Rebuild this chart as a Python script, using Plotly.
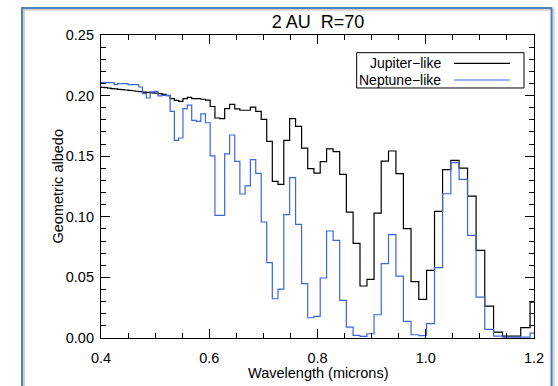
import plotly.graph_objects as go

# Bin edges (microns) read from the step positions
edges = [0.3970, 0.4062, 0.4122, 0.4182, 0.4243, 0.4306, 0.4369, 0.4433, 0.4498, 0.4564,
         0.4630, 0.4698, 0.4767, 0.4837, 0.4908, 0.4980, 0.5053, 0.5127, 0.5202, 0.5278,
         0.5356, 0.5434, 0.5514, 0.5594, 0.5676, 0.5760, 0.5844, 0.5930, 0.6017, 0.6105,
         0.6194, 0.6285, 0.6377, 0.6471, 0.6566, 0.6662, 0.6760, 0.6859, 0.6960, 0.7062,
         0.7165, 0.7270, 0.7377, 0.7485, 0.7595, 0.7706, 0.7819, 0.7934, 0.8050, 0.8168,
         0.8288, 0.8410, 0.8533, 0.8658, 0.8785, 0.8914, 0.9045, 0.9177, 0.9312, 0.9449,
         0.9587, 0.9728, 0.9871, 1.0015, 1.0162, 1.0311, 1.0463, 1.0616, 1.0772, 1.0930,
         1.1090, 1.1253, 1.1418, 1.1585, 1.1755, 1.1927, 1.2102]

jupiter = [0.2068, 0.2065, 0.2061, 0.2058, 0.2055, 0.2052, 0.2049, 0.2046, 0.2043, 0.2040,
           0.2036, 0.2032, 0.2029, 0.2026, 0.2023, 0.2020, 0.2016, 0.2010, 0.2000, 0.1975,
           0.1961, 0.1953, 0.1975, 0.1985, 0.1975, 0.1975, 0.1970, 0.1963, 0.1910, 0.1815,
           0.1810, 0.1892, 0.1928, 0.1890, 0.1879, 0.1879, 0.1905, 0.1870, 0.1804, 0.1623,
           0.1292, 0.1268, 0.1631, 0.1810, 0.1746, 0.1567, 0.1397, 0.1361, 0.1455, 0.1560,
           0.1537, 0.1350, 0.1039, 0.0780, 0.0429, 0.0484, 0.1031, 0.1460, 0.1543, 0.1356,
           0.0902, 0.0465, 0.0318, 0.0558, 0.1045, 0.1390, 0.1466, 0.1402, 0.1171, 0.0723,
           0.0263, 0.0049, 0.0016, 0.0016, 0.0085, 0.0296]

neptune = [0.2107, 0.2107, 0.2107, 0.2107, 0.2090, 0.2099, 0.2099, 0.2099, 0.2090, 0.2090,
           0.2090, 0.2071, 0.2016, 0.1980, 0.2030, 0.2035, 0.1997, 0.2002, 0.2002, 0.1870,
           0.1630, 0.1650, 0.1892, 0.1922, 0.1796, 0.1788, 0.1850, 0.1776, 0.1503, 0.1012,
           0.1012, 0.1520, 0.1675, 0.1457, 0.1188, 0.1255, 0.1472, 0.1358, 0.0957, 0.0622,
           0.0324, 0.0403, 0.1018, 0.1323, 0.0938, 0.0448, 0.0167, 0.0178, 0.0495, 0.0883,
           0.0806, 0.0310, 0.0090, 0.0021, 0.0014, 0.0035, 0.0192, 0.0613, 0.0853, 0.0511,
           0.0137, 0.0027, 0.0020, 0.0118, 0.0580, 0.1190, 0.1447, 0.1309, 0.0847, 0.0338,
           0.0071, 0.0016, 0.0008, 0.0008, 0.0008, 0.0040]

x_ticks = [0.4, 0.6, 0.8, 1.0, 1.2]
x_ticklabels = ["0.4", "0.6", "0.8", "1.0", "1.2"]
y_ticks = [0.00, 0.05, 0.10, 0.15, 0.20, 0.25]
y_ticklabels = ["0.00", "0.05", "0.10", "0.15", "0.20", "0.25"]

series_names = ["Jupiter\u2212like", "Neptune\u2212like"]
colors = ["#000000", "#3a66e0"]

FONT = "Liberation Sans, Arial, Helvetica, sans-serif"

fig = go.Figure()
for vals, name, col in zip([jupiter, neptune], series_names, colors):
    fig.add_trace(go.Scatter(
        x=edges, y=vals + [vals[-1]], mode="lines", name=name,
        line=dict(color=col, width=1.2, shape="hv"), showlegend=False))

axis_common = dict(showline=True, linecolor="black", linewidth=1.2, mirror="allticks",
                   ticks="inside", ticklen=9, tickwidth=1.1, tickcolor="black",
                   showgrid=False, zeroline=False,
                   tickfont=dict(family=FONT, size=14.5, color="black"))

fig.update_xaxes(range=[0.4, 1.2], tickvals=x_ticks, ticktext=x_ticklabels,
                 minor=dict(ticks="inside", ticklen=5, dtick=0.05, tick0=0.4,
                            tickwidth=1, tickcolor="black", showgrid=False),
                 ticklabelstandoff=6, **axis_common)
fig.update_yaxes(range=[0, 0.25], tickvals=y_ticks, ticktext=y_ticklabels,
                 minor=dict(ticks="inside", ticklen=5, dtick=0.01, tick0=0,
                            tickwidth=1, tickcolor="black", showgrid=False),
                 ticklabelstandoff=3, **axis_common)

# Legend (box, labels and sample lines) drawn inside the plot area
shapes = [
    dict(type="rect", xref="x domain", yref="y domain", x0=0.5905, x1=0.9769,
         y0=0.8251, y1=0.9416, line=dict(color="black", width=1), fillcolor="white", layer="above"),
]
legend_y = [0.9066, 0.8515]
annotations = []
for name, col, ly in zip(series_names, colors, legend_y):
    shapes.append(dict(type="line", xref="x domain", yref="y domain", x0=0.8152, x1=0.9446,
                       y0=ly, y1=ly, line=dict(color=col, width=1.2), layer="above"))
    annotations.append(dict(text=name, xref="x domain", yref="y domain", x=0.7905, y=ly,
                            xanchor="right", yanchor="middle", showarrow=False,
                            font=dict(family=FONT, size=14, color="black")))

# outer frame with a faint shadow
shapes.append(dict(type="rect", xref="paper", yref="paper", x0=-0.1778, x1=1.0450,
                   y0=-0.26, y1=1.083, line=dict(color="#d0d0d0", width=2),
                   fillcolor="rgba(0,0,0,0)", layer="below"))
shapes.append(dict(type="rect", xref="paper", yref="paper", x0=-0.1824, x1=1.0404,
                   y0=-0.25, y1=1.089, line=dict(color="#4f81bd", width=2),
                   fillcolor="rgba(0,0,0,0)", layer="below"))

annotations.append(dict(text="Wavelength (microns)", xref="paper", yref="paper",
                        x=0.5, y=-0.1168, xanchor="center", yanchor="middle", showarrow=False,
                        font=dict(family=FONT, size=14.5, color="black")))
annotations.append(dict(text="Geometric albedo", xref="paper", yref="paper",
                        x=-0.1016, y=0.5, xanchor="center", yanchor="middle", showarrow=False,
                        textangle=-90, font=dict(family=FONT, size=14.5, color="black")))

fig.update_layout(
    width=558, height=386,
    margin=dict(l=101, r=24, t=35, b=48),
    paper_bgcolor="white", plot_bgcolor="white",
    title=dict(text="2 AU\u00a0\u00a0R=70", x=0.57, xanchor="center", y=1 - 21.4 / 386,
               yanchor="middle", yref="container", font=dict(family=FONT, size=18, color="black")),
    shapes=shapes, annotations=annotations,
    showlegend=False,
)

fig.write_html("out.html")
